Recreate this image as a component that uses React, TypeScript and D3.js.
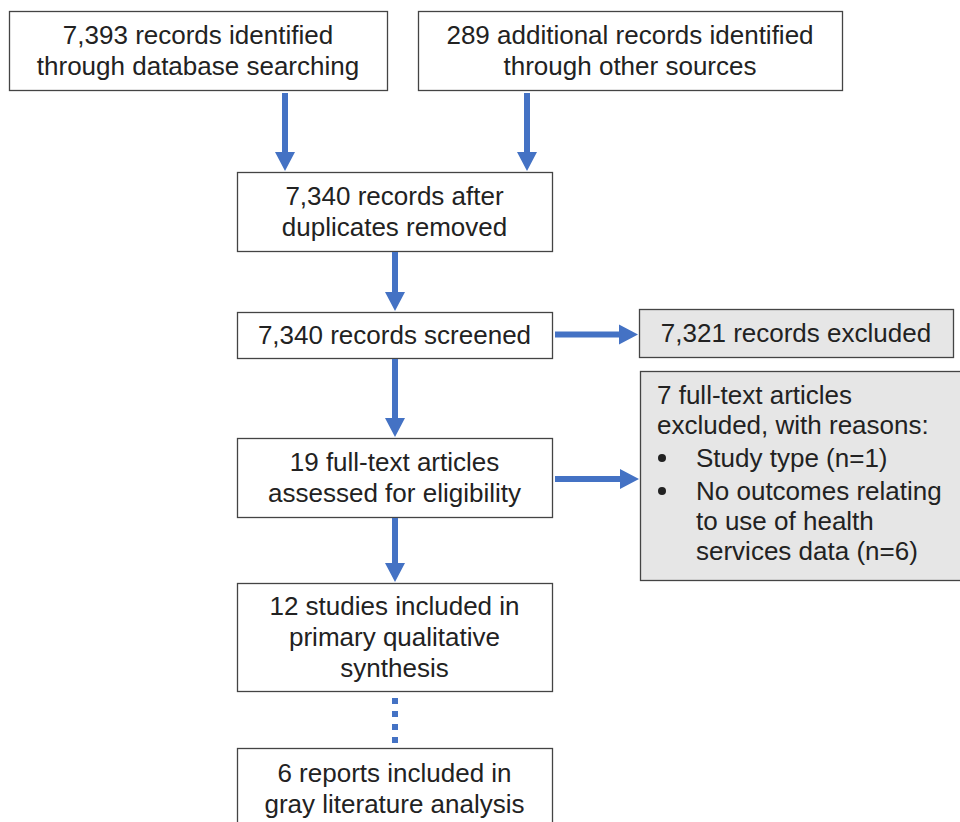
import React, { useEffect, useRef } from 'react';
import * as d3 from 'd3';

// box texts (one entry per line)
const sourceLines = [
  ['7,393 records identified', 'through database searching'],
  ['289 additional records identified', 'through other sources']
];
const stepLines = [
  ['7,340 records after', 'duplicates removed'],
  ['7,340 records screened'],
  ['19 full-text articles', 'assessed for eligibility'],
  ['12 studies included in', 'primary qualitative', 'synthesis'],
  ['6 reports included in', 'gray literature analysis']
];
const screenExcludedLines = ['7,321 records excluded'];
const fullTextExcludedHeader = ['7 full-text articles', 'excluded, with reasons:'];
const fullTextExcludedReasons = [['Study type (n=1)'], ['No outcomes relating', 'to use of health', 'services data (n=6)']];

// layout
const W = 960;
const H = 822;
const FONT = 26;
const LINE = 31;
const sourceBoxes = [
  { x: 9, y: 11, w: 378, h: 79 },
  { x: 418, y: 11, w: 424, h: 79 }
];
const stepBoxes = [
  { x: 237, y: 172, w: 315, h: 79 },
  { x: 237, y: 312, w: 315, h: 46 },
  { x: 237, y: 438, w: 315, h: 79 },
  { x: 237, y: 583, w: 315, h: 108 },
  { x: 237, y: 748, w: 315, h: 80 }
];
const screenExcludedBox = { x: 639, y: 309, w: 314, h: 48 };
const fullTextExcludedBox = { x: 640, y: 371, w: 340, h: 209 };

const ARROW = '#4472c4';
const INK = '#222';
const BORDER = '#444';
const GRAY = '#e6e6e6';

type Box = { x: number; y: number; w: number; h: number };

const App = () => {
  const rootRef = useRef<SVGSVGElement>(null);

  useEffect(() => {
    const svg = d3.select(rootRef.current).attr('width', W).attr('height', H);
    svg.selectAll('*').remove();

    const drawBox = (b: Box, fill: string) =>
      svg
        .append('rect')
        .attr('x', b.x + 0.5)
        .attr('y', b.y + 0.5)
        .attr('width', b.w)
        .attr('height', b.h)
        .attr('fill', fill)
        .attr('stroke', BORDER)
        .attr('stroke-width', 1.3);

    const centeredText = (b: Box, lines: string[]) => {
      const cy = b.y + b.h / 2;
      const first = cy - ((lines.length - 1) * LINE) / 2;
      svg
        .append('g')
        .selectAll('text')
        .data(lines)
        .enter()
        .append('text')
        .attr('x', b.x + b.w / 2)
        .attr('y', (_: string, i: number) => first + i * LINE + 9)
        .attr('text-anchor', 'middle')
        .attr('font-family', '"Liberation Sans", Arial, sans-serif')
        .attr('font-size', FONT)
        .attr('fill', INK)
        .text((d: string) => d);
    };

    // vertical / horizontal block arrow: shaft 6px, head 20x19
    const arrow = (x0: number, y0: number, x1: number, y1: number) => {
      const len = Math.hypot(x1 - x0, y1 - y0);
      const ang = (Math.atan2(y1 - y0, x1 - x0) * 180) / Math.PI;
      const hl = 19;
      const p = d3.path();
      p.moveTo(0, -3);
      p.lineTo(len - hl, -3);
      p.lineTo(len - hl, -10);
      p.lineTo(len, 0);
      p.lineTo(len - hl, 10);
      p.lineTo(len - hl, 3);
      p.lineTo(0, 3);
      p.closePath();
      svg
        .append('path')
        .attr('d', p.toString())
        .attr('fill', ARROW)
        .attr('transform', `translate(${x0},${y0}) rotate(${ang})`);
    };

    sourceBoxes.forEach((b, i) => {
      drawBox(b, 'white');
      centeredText(b, sourceLines[i]);
    });
    stepBoxes.forEach((b, i) => {
      drawBox(b, 'white');
      centeredText(b, stepLines[i]);
    });
    drawBox(screenExcludedBox, GRAY);
    centeredText(screenExcludedBox, screenExcludedLines);

    drawBox(fullTextExcludedBox, GRAY);
    const tx = fullTextExcludedBox.x + 17;
    const g = svg
      .append('g')
      .attr('font-family', '"Liberation Sans", Arial, sans-serif')
      .attr('font-size', FONT)
      .attr('fill', INK);
    fullTextExcludedHeader.forEach((t, i) => {
      g.append('text').attr('x', tx).attr('y', 404 + i * 30).text(t);
    });
    let y = 467;
    fullTextExcludedReasons.forEach((lines) => {
      g.append('circle').attr('cx', 662).attr('cy', y - 9).attr('r', 4).attr('fill', INK);
      lines.forEach((t, j) => {
        g.append('text').attr('x', 696).attr('y', y + j * 30).text(t);
      });
      y += 33 + (lines.length - 1) * 30;
    });

    // arrows
    arrow(285, 93, 285, 171);
    arrow(527, 93, 527, 171);
    const sx = stepBoxes[0].x + stepBoxes[0].w / 2 + 0.5;
    arrow(sx, 252, sx, 311);
    arrow(sx, 359, sx, 437);
    arrow(sx, 518, sx, 582);
    arrow(555, 334.5, 638, 334.5);
    arrow(555, 479, 639, 479);

    // dotted connector
    svg
      .append('line')
      .attr('x1', sx)
      .attr('x2', sx)
      .attr('y1', 698)
      .attr('y2', 744)
      .attr('stroke', ARROW)
      .attr('stroke-width', 6)
      .attr('stroke-dasharray', '6,7');
  }, []);

  return (
    <svg
      ref={rootRef}
      style={{ position: 'absolute', left: 0, top: 0, display: 'block', background: 'white' }}
    ></svg>
  );
};

export default App;
